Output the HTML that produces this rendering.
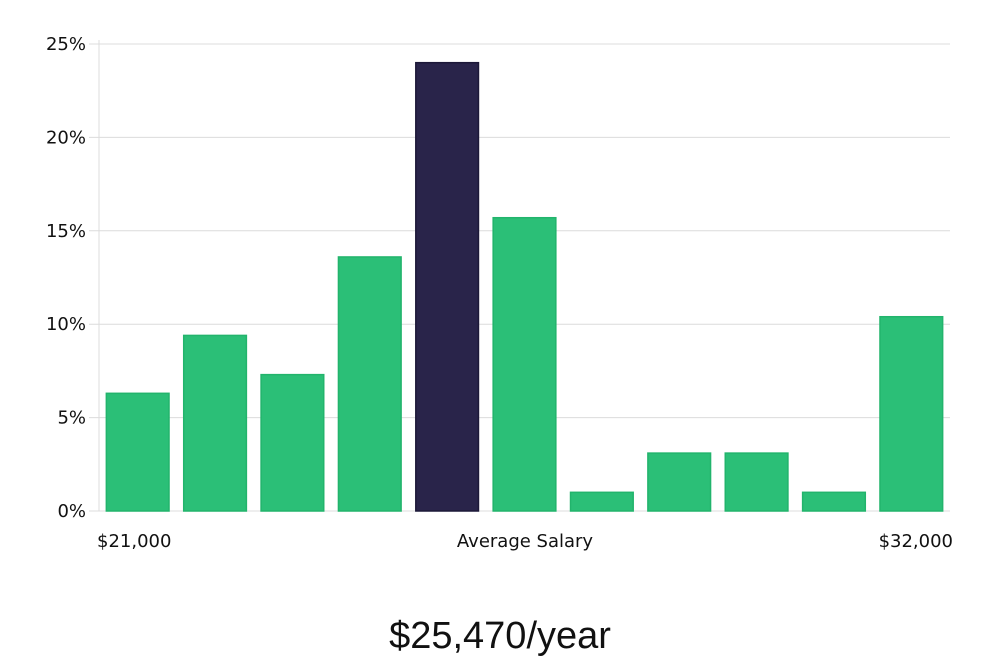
<!DOCTYPE html>
<html><head><meta charset="utf-8"><style>
body{margin:0;background:#fff;width:1000px;height:660px;overflow:hidden;font-family:"DejaVu Sans","Liberation Sans",sans-serif;}
svg{display:block}
</style></head><body>
<svg id="chart" width="1000" height="660">
<g id="grid"></g>
<g id="yaxis"></g>
<g id="bars"></g>
<g id="xaxis">
<text x="97" y="547" font-size="18" fill="#111">$21,000</text>
<text x="525" y="547" font-size="18" fill="#111" text-anchor="middle">Average Salary</text>
<text x="953" y="547" font-size="18" fill="#111" text-anchor="end">$32,000</text>
</g>
<text x="500" y="648" font-size="38" fill="#111" text-anchor="middle" font-family="'Liberation Sans Narrow','Liberation Sans',sans-serif">$25,470/year</text>
</svg>
<script>
const values=[6.3,9.4,7.3,13.6,24.0,15.7,1.0,3.1,3.1,1.0,10.4];
const highlight=[false,false,false,false,true,false,false,false,false,false,false];
const yTicks=[0,5,10,15,20,25];
const yTickLabels=["0%","5%","10%","15%","20%","25%"];
const NS="http://www.w3.org/2000/svg";
const x0=99,x1=950,yTop=44,yBot=511,yMax=25;
const y=v=>yBot-(v/yMax)*(yBot-yTop);
const band=(x1-x0)/values.length,pad=band*0.095;
const grid=document.getElementById('grid'),yax=document.getElementById('yaxis'),bars=document.getElementById('bars');
function mk(t,a){const e=document.createElementNS(NS,t);for(const k in a)e.setAttribute(k,a[k]);return e;}
yTicks.forEach((t,i)=>{
 const l=mk('line',{x1:x0-10,x2:x1,y1:y(t),y2:y(t),stroke:'#dcdcdc','stroke-width':1});
 
 
 grid.appendChild(l);
 const tx=mk('text',{x:86,y:y(t)+6,'font-size':18,fill:'#111','text-anchor':'end'});
 tx.textContent=yTickLabels[i];
 
 
 yax.appendChild(tx);
});
const ax=mk('line',{x1:x0,x2:x0,y1:40,y2:yBot,stroke:'#dcdcdc','stroke-width':1});


yax.appendChild(ax);
values.forEach((v,i)=>{
 const hi=highlight[i];
 const r=mk('rect',{x:x0+i*band+pad,y:y(v),width:band-2*pad,height:yBot-y(v),fill:hi?'#29244a':'#2bbf77',stroke:hi?'#1c1838':'#22b46c','stroke-width':1.5});
 
 
 bars.appendChild(r);
});
</script>
</body></html>
